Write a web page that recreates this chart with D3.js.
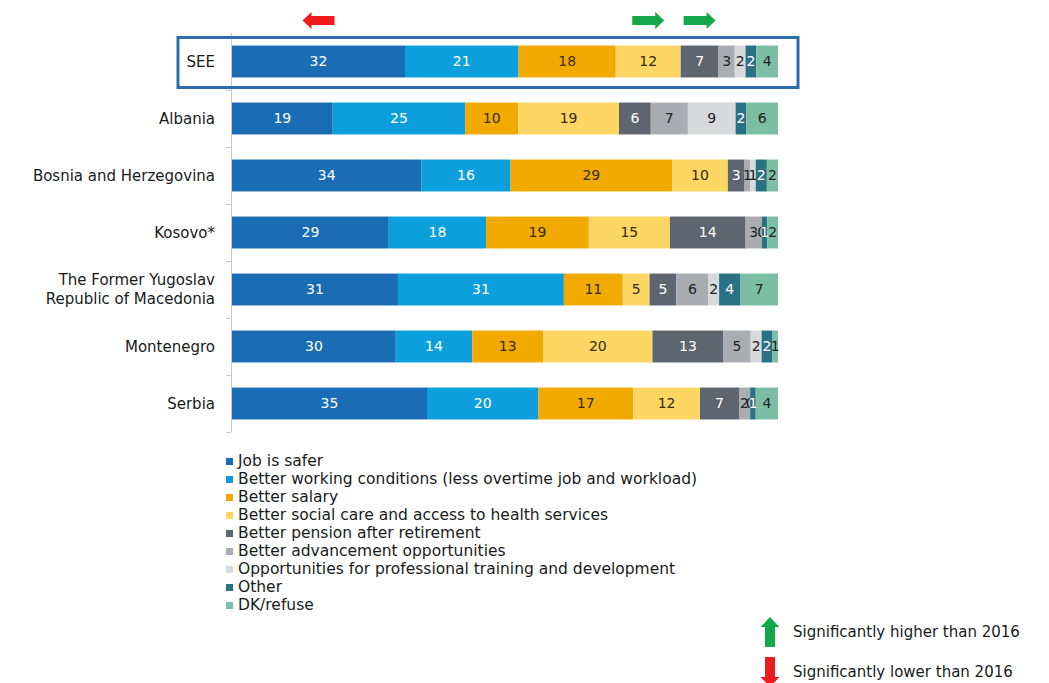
<!DOCTYPE html>
<html><head><meta charset="utf-8">
<script src="https://cdn.jsdelivr.net/npm/d3@7"></script>
<style>
body{margin:0;background:#fff;}
svg{display:block;font-family:"DejaVu Sans",sans-serif;}
</style></head>
<body><svg id="c" width="1049" height="683"></svg>
<script>
const categories = ["SEE","Albania","Bosnia and Herzegovina","Kosovo*","The Former Yugoslav|Republic of Macedonia","Montenegro","Serbia"];
const seriesNames = ["Job is safer","Better working conditions (less overtime job and workload)","Better salary","Better social care and access to health services","Better pension after retirement","Better advancement opportunities","Opportunities for professional training and development","Other","DK/refuse"];
const seriesColors = ["#1a6db4","#0c9fdc","#f2aa00","#fdd663","#5d6670","#a9adb2","#d7d9db","#2a7184","#7cbea4"];
const labelColors = ["#fff","#fff","#3a2a10","#3a2a10","#fff","#222","#222","#fff","#222"];
const SEE = [32,21,18,12,7,3,2,2,4];
const Albania = [19,25,10,19,6,7,9,2,6];
const Bosnia = [34,16,29,10,3,1,1,2,2];
const Kosovo = [29,18,19,15,14,3,0,1,2];
const Macedonia = [31,31,11,5,5,6,2,4,7];
const Montenegro = [30,14,13,20,13,5,2,2,1];
const Serbia = [35,20,17,12,7,2,0,1,4];
const rows = [SEE,Albania,Bosnia,Kosovo,Macedonia,Montenegro,Serbia];
// significance markers on SEE row: series index, direction
const sigMarkers = [{series:0,dir:"down"},{series:3,dir:"up"},{series:4,dir:"up"}];
const sigLegend = [{dir:"up",text:"Significantly higher than 2016"},{dir:"down",text:"Significantly lower than 2016"}];

const svg = d3.select("#c");
const x = d3.scaleLinear().domain([0,1]).range([232,778]);
const y = d3.scaleBand().domain(categories).range([33,432]).paddingInner(0.44).paddingOuter(0.22);

// stacked, normalised
const stacked = rows.map(r=>{
  const tot = d3.sum(r); let c=0;
  return r.map((v,i)=>{const s={x0:c/tot,x1:(c+v)/tot,v,i}; c+=v; return s;});
});

// axis line
svg.append("line").attr("x1",231.5).attr("x2",231.5).attr("y1",33).attr("y2",432).attr("stroke","#c8c8c8").attr("stroke-width",1);
const step = y.step();
categories.forEach((c,k)=>{
  const yy = y(c)+y.bandwidth()/2 + step/2;
  svg.append("line").attr("x1",226).attr("x2",231).attr("y1",Math.round(yy)+0.5).attr("y2",Math.round(yy)+0.5).attr("stroke","#c8c8c8");
});

// bars
const g = svg.selectAll("g.row").data(stacked).join("g").attr("class","row")
  .attr("transform",(d,k)=>`translate(0,${y(categories[k])})`);
g.selectAll("rect").data(d=>d).join("rect")
  .attr("x",d=>x(d.x0)).attr("width",d=>Math.max(0,x(d.x1)-x(d.x0)))
  .attr("y",0).attr("height",y.bandwidth()).attr("fill",d=>seriesColors[d.i]);
g.selectAll("text").data(d=>d).join("text")
  .attr("x",d=>(x(d.x0)+x(d.x1))/2).attr("y",y.bandwidth()/2+5)
  .attr("text-anchor","middle").attr("font-size",14)
  .attr("fill",d=>labelColors[d.i]).text(d=>d.v);

// category labels
categories.forEach(c=>{
  const parts=c.split("|");
  const t=svg.append("text").attr("text-anchor","end").attr("font-size",15).attr("fill","#1a1a1a");
  const cy=y(c)+y.bandwidth()/2;
  parts.forEach((p,j)=>{
    t.append("tspan").attr("x",215).attr("y",cy+5+(j-(parts.length-1)/2)*19).text(p);
  });
});

// SEE highlight box
svg.append("rect").attr("x",178).attr("y",37.5).attr("width",620).attr("height",50)
  .attr("fill","none").attr("stroke","#2a6eaf").attr("stroke-width",3);

// arrows
function hArrow(cx,cy,dir,color){
  const s = dir==="down"?-1:1; // right for up, left for down
  const L=16,hw=4.5,hh=8.5,hl=9;
  const pts=[[-L,-hw],[L-hl,-hw],[L-hl,-hh],[L,0],[L-hl,hh],[L-hl,hw],[-L,hw]].map(p=>[cx+s*p[0],cy+p[1]]);
  svg.append("polygon").attr("points",pts.map(p=>p.join(",")).join(" ")).attr("fill",color);
}
function vArrow(cx,cy,dir,color){
  const s = dir==="up"?-1:1;
  const L=15,hw=5,hh=9.5,hl=10;
  const pts=[[-L,-hw],[L-hl,-hw],[L-hl,-hh],[L,0],[L-hl,hh],[L-hl,hw],[-L,hw]].map(p=>[cx+p[1],cy+s*p[0]]);
  svg.append("polygon").attr("points",pts.map(p=>p.join(",")).join(" ")).attr("fill",color);
}
const seeRow = stacked[0];
sigMarkers.forEach(m=>{
  const d=seeRow[m.series];
  hArrow((x(d.x0)+x(d.x1))/2, 20.5, m.dir, m.dir==="up"?"#14a84a":"#ee1c1c");
});

// legend
const lg = svg.append("g");
seriesNames.forEach((n,i)=>{
  const yy = 464 + i*18;
  lg.append("rect").attr("x",226).attr("y",yy-6).attr("width",7).attr("height",7).attr("fill",seriesColors[i]);
  lg.append("text").attr("x",238).attr("y",yy+1.5).attr("font-size",15.5).attr("fill","#1a1a1a").text(n);
});

// significance legend
sigLegend.forEach((s,k)=>{
  const cy = k===0?632:672;
  vArrow(770,cy,s.dir,s.dir==="up"?"#14a84a":"#ee1c1c");
  svg.append("text").attr("x",793).attr("y",cy+5).attr("font-size",15).attr("fill","#1a1a1a").text(s.text);
});
</script></body></html>
